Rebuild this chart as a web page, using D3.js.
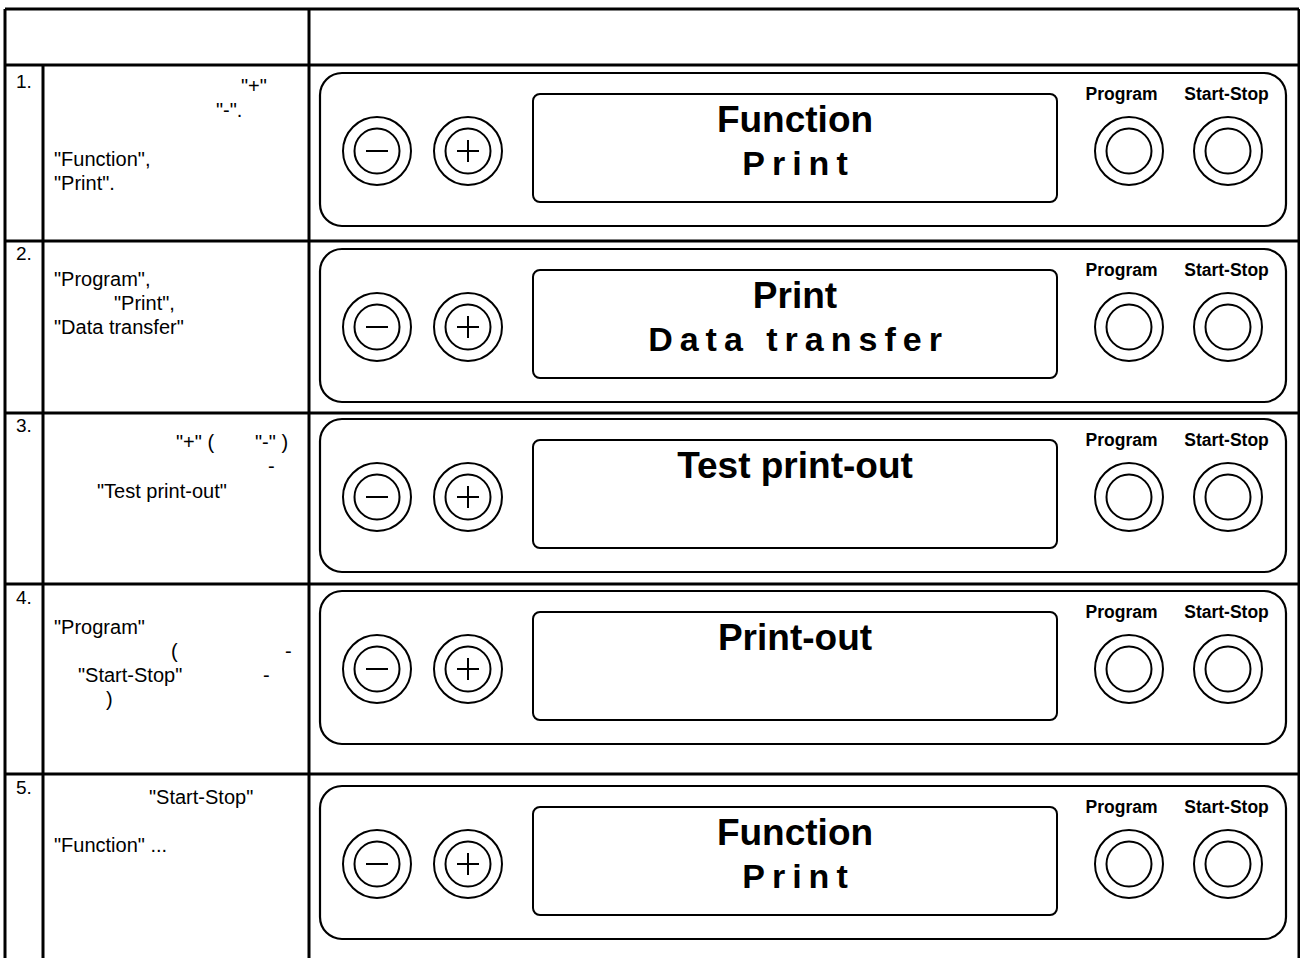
<!DOCTYPE html>
<html>
<head>
<meta charset="utf-8">
<script src="https://cdn.jsdelivr.net/npm/d3@7/dist/d3.min.js"></script>
<style>
  html, body { margin: 0; padding: 0; background: #fff; }
  svg { display: block; }
  text { font-family: "Liberation Sans", Arial, sans-serif; fill: #000; }
</style>
</head>
<body>
<script>
// ---------------- data ----------------
const rowNumbers = ["1.", "2.", "3.", "4.", "5."];
// visible instruction fragments per row (text only)
const stepTexts = [
  ['"+"', '"-".', '"Function",', '"Print".'],
  ['"Program",', '"Print",', '"Data transfer"'],
  ['"+" (', '"-" )', '-', '"Test print-out"'],
  ['"Program"', '(', '-', '"Start-Stop"', '-', ')'],
  ['"Start-Stop"', '"Function" ...']
];
const displayLine1 = ["Function", "Print", "Test print-out", "Print-out", "Function"];
const displayLine2 = ["Print", "Data transfer", "", "", "Print"];
const buttonLabels = ["Program", "Start-Stop"];
const keySymbols = ["minus", "plus"];

// ---------------- layout (positions, not data) ----------------
const W = 1300, H = 958;
const rowTops = [65, 241, 413, 584, 774, 990];
const panelTops = [73, 249, 419, 591, 786];
const numBaselines = [88, 260, 432, 604, 794];
// [x, baseline y] for each fragment in stepTexts
const stepLayout = [
  [[241, 93], [216, 117], [54, 166], [54, 190]],
  [[54, 286], [114, 310], [54, 334]],
  [[176, 449], [255, 449], [268, 473], [97, 498]],
  [[54, 634], [171, 658], [285, 658], [78, 682], [263, 682], [106, 706]],
  [[149, 804], [54, 852]]
];

const svg = d3.select("body").append("svg").attr("width", W).attr("height", H);

// horizontal scale for panel elements
const px = d3.scaleLinear().domain([0, 1]).range([320, 1286]);

const tableG = svg.append("g");
const lineStyle = sel => sel.attr("stroke", "#000").attr("stroke-width", 3).attr("fill", "none");

// table outer + grid
tableG.append("line").attr("x1", 5).attr("x2", 1299).attr("y1", 9).attr("y2", 9).call(lineStyle);
tableG.append("line").attr("x1", 5).attr("x2", 5).attr("y1", 9).attr("y2", H + 5).call(lineStyle);
tableG.append("line").attr("x1", 1299).attr("x2", 1299).attr("y1", 9).attr("y2", H + 5).call(lineStyle);
tableG.append("line").attr("x1", 309).attr("x2", 309).attr("y1", 9).attr("y2", H + 5).call(lineStyle);
tableG.append("line").attr("x1", 43).attr("x2", 43).attr("y1", rowTops[0]).attr("y2", H + 5).call(lineStyle);
tableG.selectAll("line.row").data(rowTops.slice(0, 5)).join("line")
  .attr("class", "row")
  .attr("x1", 5).attr("x2", 1299)
  .attr("y1", d => d).attr("y2", d => d).call(lineStyle);

// row numbers
svg.selectAll("text.num").data(rowNumbers).join("text")
  .attr("class", "num")
  .attr("x", 16).attr("y", (d, i) => numBaselines[i])
  .attr("font-size", 19)
  .text(d => d);

// step texts
stepTexts.forEach((frags, r) => {
  svg.append("g").selectAll("text").data(frags).join("text")
    .attr("x", (d, i) => stepLayout[r][i][0])
    .attr("y", (d, i) => stepLayout[r][i][1])
    .attr("font-size", 20)
    .style("white-space", "pre")
    .text(d => d);
});

// panels
const panels = svg.selectAll("g.panel").data(displayLine1).join("g")
  .attr("class", "panel")
  .attr("transform", (d, i) => `translate(0,${panelTops[i]})`);

panels.append("rect")
  .attr("x", px(0)).attr("y", 0)
  .attr("width", px(1) - px(0)).attr("height", 153)
  .attr("rx", 22).attr("ry", 22)
  .attr("fill", "none").attr("stroke", "#000").attr("stroke-width", 2.2);

// display window
panels.append("rect")
  .attr("x", 533).attr("y", 21)
  .attr("width", 1057 - 533).attr("height", 108)
  .attr("rx", 7).attr("ry", 7)
  .attr("fill", "none").attr("stroke", "#000").attr("stroke-width", 2);

// display texts
panels.append("text")
  .attr("x", 795).attr("y", 59)
  .attr("text-anchor", "middle")
  .attr("font-size", 37).attr("font-weight", "bold")
  .text(d => d);
panels.append("text")
  .attr("x", 798.5).attr("y", 102)
  .attr("text-anchor", "middle")
  .attr("font-size", 34).attr("font-weight", "bold")
  .attr("letter-spacing", 7)
  .text((d, i) => displayLine2[i]);

// buttons
const btnX = [377, 468, 1129, 1228];
panels.each(function () {
  const g = d3.select(this);
  btnX.forEach(cx => {
    g.append("circle").attr("cx", cx).attr("cy", 78).attr("r", 34)
      .attr("fill", "none").attr("stroke", "#000").attr("stroke-width", 2);
    g.append("circle").attr("cx", cx).attr("cy", 78).attr("r", 22.5)
      .attr("fill", "none").attr("stroke", "#000").attr("stroke-width", 2);
  });
  keySymbols.forEach((k, i) => {
    const cx = btnX[i];
    g.append("line").attr("x1", cx - 11).attr("x2", cx + 11).attr("y1", 78).attr("y2", 78)
      .attr("stroke", "#000").attr("stroke-width", 2);
    if (k === "plus") {
      g.append("line").attr("x1", cx).attr("x2", cx).attr("y1", 67).attr("y2", 89)
        .attr("stroke", "#000").attr("stroke-width", 2);
    }
  });
  g.selectAll("text.lbl").data(buttonLabels).join("text")
    .attr("class", "lbl")
    .attr("x", (d, i) => [1121.5, 1226.5][i]).attr("y", 27)
    .attr("text-anchor", "middle")
    .attr("font-size", 17.5).attr("font-weight", "bold")
    .text(d => d);
});
</script>
</body>
</html>
